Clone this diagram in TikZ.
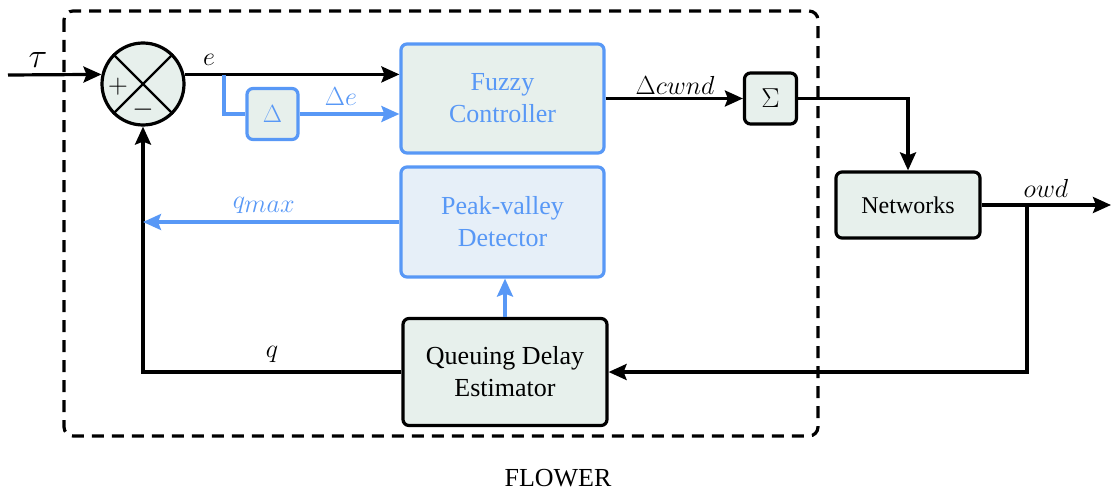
\documentclass[tikz,border=0pt]{standalone}
\usepackage{fontspec}
\setmainfont{Liberation Serif}
\usetikzlibrary{arrows.meta}
\definecolor{bl}{RGB}{88,152,246}
\definecolor{gfill}{RGB}{231,240,236}
\definecolor{bfill}{RGB}{230,239,248}
\tikzset{
  lw/.style={line width=3.2pt},
  arr/.style={lw,-{Stealth[length=18pt,width=16pt,inset=3pt]}},
  blkbox/.style={draw=black,lw,fill=gfill,rounded corners=6pt,inner sep=0pt,align=center,font=\rmfamily\fontsize{26}{32}\selectfont},
  blubox/.style={draw=bl,lw,fill=gfill,rounded corners=6pt,inner sep=0pt,align=center,text=bl,font=\rmfamily\fontsize{26}{32}\selectfont},
  lbl/.style={font=\rmfamily\fontsize{26}{30}\selectfont,inner sep=0pt}
}
\begin{document}
\begin{tikzpicture}[x=1pt,y=-1pt]
\useasboundingbox (0,0) rectangle (1113,495);
% dashed frame
\draw[lw,dash pattern=on 12pt off 8pt,rounded corners=9pt] (64,11) rectangle (818,436);
\node[lbl] (flower) at (558,478) {FLOWER};
% summing junction
\node[circle,draw,lw,fill=gfill,minimum size=82pt,inner sep=0pt] (sum) at (143,84) {};
\draw[line width=2.2pt] (sum.45) -- (sum.225) (sum.135) -- (sum.315);
\node[lbl] (plus) at (118,87) {\scalebox{1.1}{$+$}};
\node[lbl] (minus) at (143,110) {\scalebox{1.1}{$-$}};
% blocks
\node[blubox,minimum width=51pt,minimum height=51pt] (delta) at (272.5,114) {$\Delta$};
\node[blubox,minimum width=203pt,minimum height=109pt] (fc) at (502.5,98.5) {Fuzzy\\Controller};
\node[blubox,fill=bfill,minimum width=203pt,minimum height=110pt] (pvd) at (502.5,222) {Peak-valley\\Detector};
\node[blkbox,minimum width=204pt,minimum height=107pt] (qde) at (505,372) {Queuing Delay\\Estimator};
\node[blkbox,minimum width=52pt,minimum height=51pt] (sig) at (770.5,98.5) {\scalebox{1.1}{$\Sigma$}};
\node[blkbox,minimum width=144pt,minimum height=66pt,font=\rmfamily\fontsize{24}{28}\selectfont] (net) at (908,205) {Networks};
% coordinates
\coordinate (tin) at (8,75);
\coordinate (br) at (224,75);
\coordinate (out) at (1111,205);
\coordinate (ob) at (1027,205);
% connectors
\draw[arr] (tin) -- (sum.167);
\draw[arr] (sum.13) -- (sum.13 -| fc.west);
\draw[lw,draw=bl] (br) |- (delta.west);
\draw[arr,draw=bl,fill=bl] (delta.east) -- (delta.east -| fc.west);
\draw[arr] (fc.east) -- (sig.west);
\draw[arr] (sig.east) -| (net.north);
\draw[arr] (net.east) -- (out);
\draw[arr] (ob) |- (qde.east);
\draw[arr] (qde.west) -| (sum.south);
\draw[arr,draw=bl,fill=bl] (pvd.west) -- (pvd.west -| sum.south);
\draw[arr,draw=bl,fill=bl] (qde.north) -- (qde.north |- pvd.south);
% labels
\node[lbl] (ltau) at (38,60) {\scalebox{1.4}{$\tau$}};
\node[lbl] (le) at (209,60) {\scalebox{1.05}{$e$}};
\node[lbl,text=bl] (lde) at (341,97) {\scalebox{1.05}{$\Delta e$}};
\node[lbl] (lcw) at (675,85) {\scalebox{1.05}{$\Delta c w n d$}};
\node[lbl] (lowd) at (1046,188) {\scalebox{1.05}{$o w d$}};
\node[lbl,text=bl] (lqm) at (264,205) {\scalebox{1.05}{$q_{\textstyle max}$}};
\node[lbl] (lq) at (272,354) {\scalebox{1.05}{$q$}};
\end{tikzpicture}
\end{document}
